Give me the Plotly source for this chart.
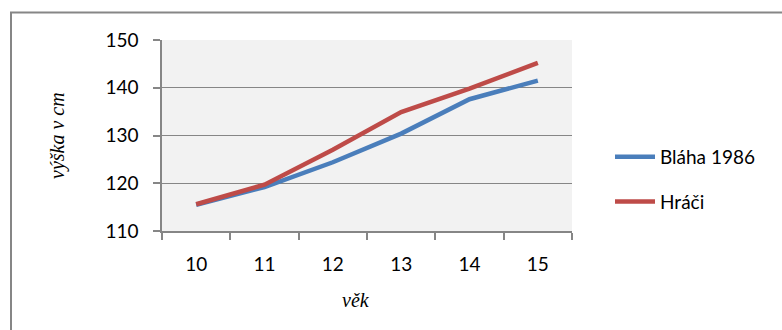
import plotly.graph_objects as go

ages = ["10", "11", "12", "13", "14", "15"]
blaha = [115.5, 119.2, 124.4, 130.4, 137.6, 141.5]
hraci = [115.6, 119.7, 127.0, 134.9, 139.8, 145.2]
series_names = ["Bláha 1986", "Hráči"]
y_ticks = [110, 120, 130, 140, 150]

W, H = 782, 330
L, R, T, B = 162, 210, 40, 99

fig = go.Figure()
fig.add_trace(go.Scatter(x=ages, y=blaha, mode="lines", name=series_names[0], legendgroup="a",
                         line=dict(color="#4a7ebb", width=4.5)))
fig.add_trace(go.Scatter(x=ages, y=hraci, mode="lines", name=series_names[1], legendgroup="b",
                         line=dict(color="#be4b48", width=4.5)))

pw = W - L - R
ph = H - T - B

def px(xp):
    return (xp - L) / pw

def py(yp):
    return (H - B - yp) / ph

title_font = dict(family="Liberation Serif, serif", size=20, style="italic", color="#000")

fig.update_layout(
    width=W, height=H,
    margin=dict(l=L, r=R, t=T, b=B, pad=0),
    paper_bgcolor="white",
    plot_bgcolor="#f2f2f2",
    font=dict(family="Lato, Open Sans, sans-serif", size=19, color="#000"),
    showlegend=True,
    legend=dict(x=px(610), y=py(138), xanchor="left", yanchor="top",
                bgcolor="rgba(0,0,0,0)", font=dict(size=19), tracegroupgap=17,
                itemwidth=40),
    xaxis=dict(type="category", range=[-0.5, 5.5], showline=True, linecolor="#868686",
               linewidth=1.5, ticks="outside", tickson="boundaries", ticklen=7,
               tickcolor="#868686", tickwidth=1.5, showgrid=False, zeroline=False,
               ticklabelstandoff=15),
    yaxis=dict(range=[110, 150], tickvals=y_ticks, showline=True, linecolor="#868686",
               linewidth=1.5, ticks="outside", ticklen=7, tickcolor="#868686", tickwidth=1.5,
               showgrid=True, gridcolor="#868686", gridwidth=1.3, zeroline=False,
               ticklabelstandoff=11),
    annotations=[
        dict(text="výška v cm", xref="paper", yref="paper", x=px(57), y=py(136),
             xanchor="center", yanchor="middle", textangle=-90, showarrow=False,
             font=title_font),
        dict(text="věk", xref="paper", yref="paper", x=px(356), y=py(300),
             xanchor="center", yanchor="middle", showarrow=False, font=title_font),
    ],
)

fig.add_shape(type="rect", xref="paper", yref="paper",
              x0=px(11), x1=px(W + 20),
              y0=py(H + 20), y1=py(12.5),
              line=dict(color="#868686", width=2), fillcolor="rgba(0,0,0,0)", layer="below")

fig.write_html("out.html")
